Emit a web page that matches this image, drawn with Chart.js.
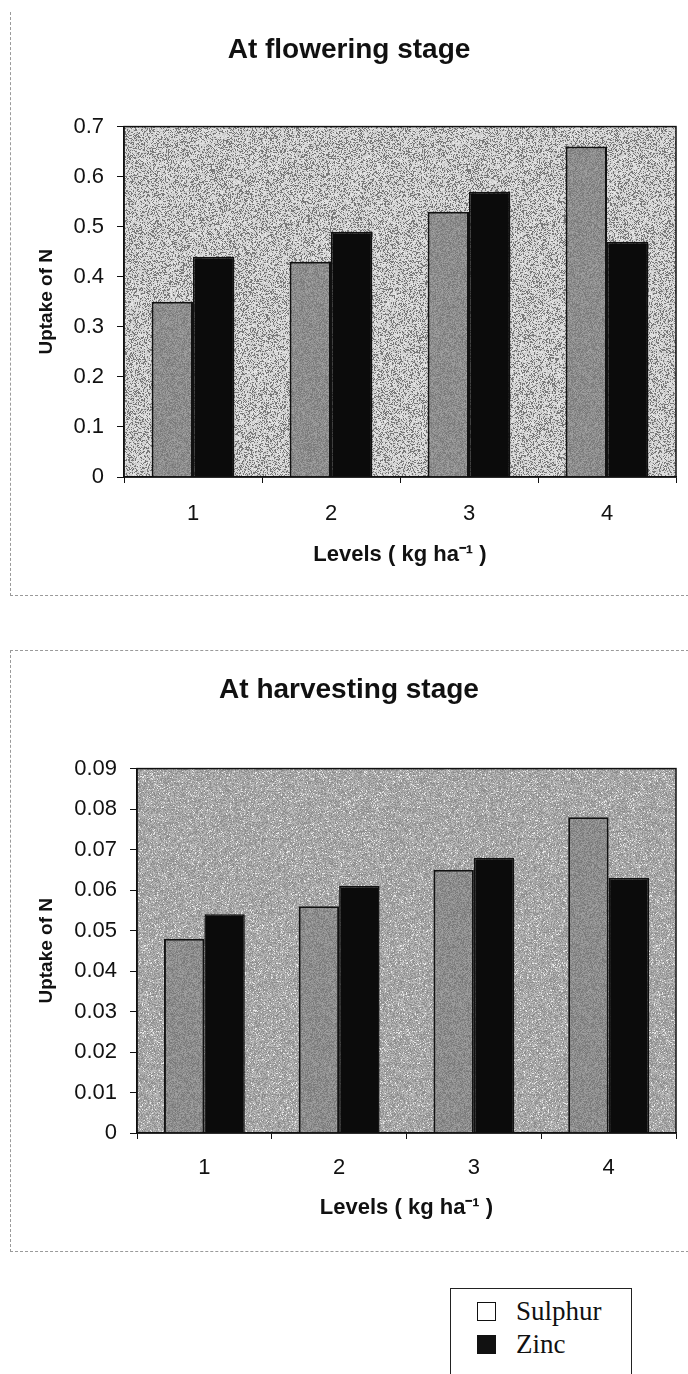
<!DOCTYPE html>
<html>
<head>
<meta charset="utf-8">
<script src="https://cdn.jsdelivr.net/npm/chart.js@4.4.0/dist/chart.umd.min.js"></script>
<style>
  body { margin: 0; background: #fff; width: 688px; height: 1374px; position: relative; overflow: hidden; }
  .box { position: absolute; }
  .frame { position: absolute; border-color: #9a9a9a; border-style: dashed; border-width: 0; }
  #legend { position: absolute; left: 450px; top: 1288px; width: 180px; height: 110px;
    border: 1.5px solid #222; font-family: "Liberation Serif", "DejaVu Serif", serif; font-size: 27px; color: #111; }
  #legend div { position: absolute; left: 26px; height: 30px; line-height: 30px; }
  #legend span { display: inline-block; width: 17px; height: 17px; margin-right: 20px; vertical-align: -1px; border: 1.5px solid #111; }
</style>
</head>
<body>

<div class="frame" style="left:10px; top:12px; width:678px; height:583px; border-left-width:1px; border-bottom-width:1px;"></div>
<div class="frame" style="left:10px; top:650px; width:678px; height:600px; border-left-width:1px; border-top-width:1px; border-bottom-width:1px;"></div>

<div class="box" style="left:0; top:0; width:688px; height:600px;"><canvas id="flowerCanvas"></canvas></div>
<div class="box" style="left:0; top:640px; width:688px; height:620px;"><canvas id="harvestCanvas"></canvas></div>

<div id="legend">
  <div style="top:7px;"><span style="background:#fff;"></span>Sulphur</div>
  <div style="top:40px;"><span style="background:#111;"></span>Zinc</div>
</div>

<script>
//--------------------- DATA -------------------------
const levels = ['1', '2', '3', '4'];

// uptake of N at flowering
const sulphurFlower = [0.35, 0.43, 0.53, 0.66];
const zincFlower = [0.44, 0.49, 0.57, 0.47];
const flowerTicks = [0, 0.1, 0.2, 0.3, 0.4, 0.5, 0.6, 0.7];

// uptake of N at harvest
const sulphurHarvest = [0.048, 0.056, 0.065, 0.078];
const zincHarvest = [0.054, 0.061, 0.068, 0.063];
const harvestTicks = [0, 0.01, 0.02, 0.03, 0.04, 0.05, 0.06, 0.07, 0.08, 0.09];

//--------------------- TEXTURES -------------------------
// small integer hash so the grain is the same on every load
function hash(x, y, s) {
    let n = (x * 374761393 + y * 668265263 + s * 1442695041) | 0;
    n = Math.imul(n ^ (n >>> 13), 1274126177);
    return ((n ^ (n >>> 16)) >>> 0) / 4294967296;
}

function grain(base, spread, speck, speckLevel, seed) {
    const size = 256;
    const c = document.createElement('canvas');
    c.width = size; c.height = size;
    const g = c.getContext('2d');
    const img = g.createImageData(size, size);
    for (let y = 0; y < size; y++) {
        for (let x = 0; x < size; x++) {
            let v = base + (hash(x, y, seed) - 0.5) * spread;
            if (hash(x, y, seed + 7) < speck) v = speckLevel;
            const i = (y * size + x) * 4;
            img.data[i] = img.data[i + 1] = img.data[i + 2] = v;
            img.data[i + 3] = 255;
        }
    }
    g.putImageData(img, 0, 0);
    return g.createPattern(c, 'repeat');
}

const flowerBack = grain(214, 40, 0.3, 120, 1);
const harvestBack = grain(165, 60, 0.06, 235, 2);
const sulphurFill = grain(140, 45, 0.0, 0, 3);
const zincFill = '#0b0b0b';

//--------------------- PLOT AREA -------------------------
const plotFrame = {
    id: 'plotFrame',
    beforeDraw(chart, args, opts) {
        const { ctx, chartArea: a } = chart;
        ctx.save();
        ctx.fillStyle = opts.fill;
        ctx.fillRect(a.left, a.top, a.width, a.height);
        ctx.restore();
    },
    afterDatasetsDraw(chart) {
        const { ctx, chartArea: a } = chart;
        ctx.save();
        ctx.strokeStyle = '#111';
        ctx.lineWidth = 1.5;
        ctx.strokeRect(a.left, a.top, a.width, a.height);
        ctx.restore();
    }
};

Chart.defaults.font.family = '"Liberation Sans", Arial, sans-serif';
Chart.defaults.color = '#111';

function makeConfig(title, sulphur, zinc, ticks, layout) {
    const fmt = v => (v === 0 ? '0' : v.toFixed(ticks[1] < 0.1 ? 2 : 1));
    return {
        type: 'bar',
        data: {
            labels: levels,
            datasets: [{
                label: 'Sulphur',
                data: sulphur,
                backgroundColor: sulphurFill,
                borderColor: '#111',
                borderWidth: 2,
                categoryPercentage: 0.6,
                barPercentage: 1.0
            }, {
                label: 'Zinc',
                data: zinc,
                backgroundColor: zincFill,
                borderColor: '#111',
                borderWidth: 1.5,
                categoryPercentage: 0.6,
                barPercentage: 1.0
            }]
        },
        options: {
            responsive: true,
            maintainAspectRatio: false,
            animation: false,
            devicePixelRatio: 1,
            layout: { padding: { left: 22, right: 12, top: 0, bottom: 0 } },
            plugins: {
                legend: { display: false },
                tooltip: { enabled: false },
                title: {
                    display: true,
                    text: title,
                    font: { size: 28, weight: 'bold' },
                    padding: { top: 33, bottom: layout.titleGap }
                },
                plotFrame: { fill: layout.back }
            },
            scales: {
                x: {
                    grid: { display: true, drawOnChartArea: false, tickLength: 6, color: '#111', offset: true },
                    border: { display: true, color: '#111', width: 1.5 },
                    ticks: { font: { size: 22 }, padding: layout.xPad, color: '#111' },
                    title: {
                        display: true,
                        text: 'Levels ( kg ha\u207B\u00B9 )',
                        font: { size: 22, weight: 'bold' },
                        padding: { top: 0, bottom: layout.xTitleGap }
                    },
                    afterFit: s => { s.height = layout.xHeight; }
                },
                y: {
                    min: 0,
                    max: ticks[ticks.length - 1],
                    afterBuildTicks: s => { s.ticks = ticks.map(v => ({ value: v })); },
                    grid: { display: true, drawOnChartArea: false, tickLength: 7, color: '#111' },
                    border: { display: true, color: '#111', width: 1.5 },
                    ticks: { font: { size: 22 }, padding: 13, color: '#111', callback: fmt },
                    title: {
                        display: true,
                        text: 'Uptake of N',
                        font: { size: 19, weight: 'bold' },
                        padding: { top: 13, bottom: 0 }
                    },
                    afterFit: s => { s.width = layout.yWidth; }
                }
            }
        },
        plugins: [plotFrame]
    };
}

const flowerChart = new Chart(
    document.getElementById('flowerCanvas'),
    makeConfig('At flowering stage', sulphurFlower, zincFlower, flowerTicks,
        { back: flowerBack, titleGap: 60, xHeight: 123, xPad: 18, xTitleGap: 32, yWidth: 102 })
);

const harvestChart = new Chart(
    document.getElementById('harvestCanvas'),
    makeConfig('At harvesting stage', sulphurHarvest, zincHarvest, harvestTicks,
        { back: harvestBack, titleGap: 62, xHeight: 127, xPad: 16, xTitleGap: 39, yWidth: 115 })
);
</script>
</body>
</html>
